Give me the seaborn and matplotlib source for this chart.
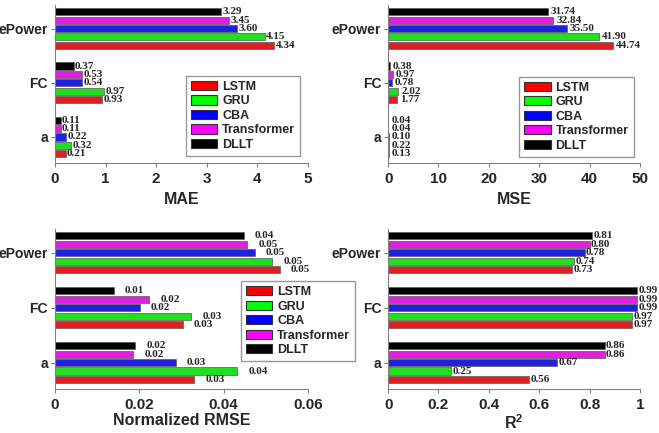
import pandas as pd
import matplotlib.pyplot as plt
import seaborn as sns
from matplotlib.patches import Patch
from matplotlib.ticker import FuncFormatter

# categories (top to bottom on the chart) and models
categories = ['ePower', 'FC', 'a']
models = ['LSTM', 'GRU', 'CBA', 'Transformer', 'DLLT']
colors = ['#ff0000', '#00ff00', '#0000ff', '#ff00ff', '#000000']

# values per model, in the order of categories: ePower, FC, a
mae_vals = [[4.34, 0.93, 0.21], [4.15, 0.97, 0.32], [3.60, 0.54, 0.22],
            [3.45, 0.53, 0.11], [3.29, 0.37, 0.11]]
mse_vals = [[44.74, 1.77, 0.13], [41.90, 2.02, 0.22], [35.50, 0.78, 0.10],
            [32.84, 0.97, 0.04], [31.74, 0.38, 0.04]]
nrmse_vals = [[0.0533, 0.0303, 0.0331], [0.0516, 0.0323, 0.0433], [0.0474, 0.0201, 0.0287],
              [0.0456, 0.0224, 0.0186], [0.0448, 0.0140, 0.0190]]
r2_vals = [[0.73, 0.97, 0.56], [0.74, 0.97, 0.25], [0.78, 0.99, 0.67],
           [0.80, 0.99, 0.86], [0.81, 0.99, 0.86]]


def to_frame(vals):
    rows = []
    for m, row in zip(models, vals):
        for c, v in zip(categories, row):
            rows.append({'cat': c, 'model': m, 'value': v})
    return pd.DataFrame(rows)


sns.set_style('ticks')
plt.rcParams['font.family'] = ['Liberation Sans', 'DejaVu Sans']
plt.rcParams['font.weight'] = 'bold'
plt.rcParams['mathtext.fontset'] = 'custom'
plt.rcParams['mathtext.rm'] = 'Liberation Sans:bold'
plt.rcParams['mathtext.it'] = 'Liberation Sans:bold'

fig = plt.figure(figsize=(6.59, 4.33), dpi=100)
positions = [[0.0835, 0.6236, 0.3835, 0.3644], [0.589, 0.6236, 0.382, 0.3644],
             [0.0835, 0.1016, 0.3835, 0.3694], [0.589, 0.1016, 0.382, 0.3694]]

panels = [
    (mae_vals, 'MAE', 5, [0, 1, 2, 3, 4, 5], 1),
    (mse_vals, 'MSE', 50, [0, 10, 20, 30, 40, 50], 2),
    (nrmse_vals, 'Normalized RMSE', 0.06, [0, 0.02, 0.04, 0.06], 8),
    (r2_vals, r'R$^\mathrm{2}$', 1, [0, 0.2, 0.4, 0.6, 0.8, 1], 1),
]

hue_order = models[::-1]
palette = dict(zip(models, colors))

axes = []
for i, (pos, (vals, label, xmax, ticks, pad)) in enumerate(zip(positions, panels)):
    ax = fig.add_axes(pos)
    df = to_frame(vals)
    sns.barplot(data=df, x='value', y='cat', hue='model', order=categories,
                hue_order=hue_order, palette=palette, orient='h', width=0.77,
                gap=0.15, edgecolor='0.35', linewidth=0.5, legend=False, ax=ax)
    for cont in ax.containers:
        ax.bar_label(cont, fmt='%.2f', padding=pad, fontsize=8,
                     fontfamily='Liberation Serif', fontweight='bold')
    ax.set_xlim(0, xmax)
    ax.set_ylim(2.48, -0.43)
    ax.set_xticks(ticks)
    ax.xaxis.set_major_formatter(FuncFormatter(lambda v, p: '%g' % v))
    ax.set_xlabel(label, fontsize=11.5, fontweight='bold', labelpad=4 if i < 2 else 1)
    ax.set_ylabel('')
    ax.tick_params(axis='x', labelsize=11, length=3, color='0.5')
    ax.tick_params(axis='y', labelsize=10, length=3, pad=2, color='0.5')
    for s in ['top', 'right']:
        ax.spines[s].set_visible(False)
    for s in ['left', 'bottom']:
        ax.spines[s].set_color('0.5')
    axes.append(ax)

handles = [Patch(facecolor=c, edgecolor='0.2', linewidth=0.8) for c in colors]
leg_opts = dict(fontsize=9, frameon=True, fancybox=False, edgecolor='0.5',
                handlelength=2.1, handleheight=0.75, labelspacing=0.2,
                handletextpad=0.4, borderpad=0.4, borderaxespad=0)
axes[0].legend(handles, models, loc='lower right', bbox_to_anchor=(0.97, 0.045), **leg_opts)
axes[1].legend(handles, models, loc='lower right', bbox_to_anchor=(0.975, 0.04), **leg_opts)
leg = axes[2].legend(handles, models, loc='upper left', bbox_to_anchor=(0.735, 0.675), **leg_opts)
leg.set_zorder(10)

plt.savefig('out.png', dpi=100)
